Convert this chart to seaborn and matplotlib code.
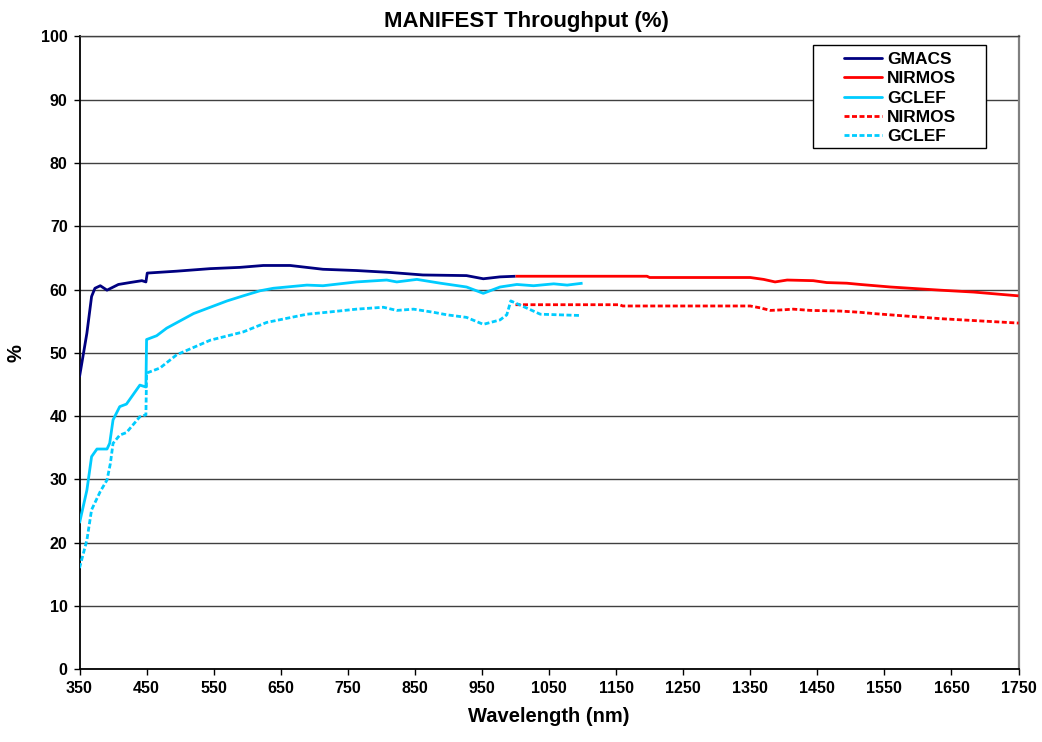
import matplotlib
matplotlib.use("Agg")
import matplotlib.pyplot as plt
from matplotlib.lines import Line2D
from matplotlib.patches import Rectangle
import seaborn as sns
import pandas as pd

# ---- data ----
gmacs_wl = [350, 361, 368, 373, 381, 391, 408, 425, 443, 449, 451, 495, 545, 589, 624, 664,
            713, 763, 813, 862, 927, 952, 977, 1000]
gmacs = [46.2, 53.1, 58.9, 60.2, 60.6, 59.9, 60.8, 61.1, 61.4, 61.2, 62.6, 62.9, 63.3, 63.5, 63.8, 63.8,
         63.2, 63.0, 62.7, 62.3, 62.2, 61.7, 62.0, 62.1]

nirmos_wl = [1000, 1196, 1200, 1350, 1370, 1387, 1405, 1444, 1464, 1494, 1514, 1559, 1633, 1683, 1750]
nirmos = [62.1, 62.1, 61.9, 61.9, 61.6, 61.2, 61.5, 61.4, 61.1, 61.0, 60.8, 60.4, 59.9, 59.6, 59.0]

gclef_wl = [350, 361, 368, 376, 391, 395, 400, 410, 420, 440, 449, 450, 465, 480, 520, 570, 594, 619,
            639, 689, 713, 763, 808, 823, 853, 888, 927, 952, 977, 1002, 1027, 1057, 1077, 1100]
gclef = [23.1, 28.3, 33.6, 34.8, 34.8, 35.7, 39.4, 41.5, 41.9, 44.9, 44.6, 52.1, 52.7, 53.9, 56.2, 58.2, 59.0, 59.8,
         60.2, 60.7, 60.6, 61.2, 61.5, 61.2, 61.6, 61.0, 60.4, 59.4, 60.4, 60.8, 60.6, 60.9, 60.7, 61.0]

nirmos2_wl = [1000, 1155, 1160, 1350, 1365, 1380, 1400, 1414, 1440, 1484, 1514, 1534, 1633, 1683, 1750]
nirmos2 = [57.6, 57.6, 57.4, 57.4, 57.1, 56.7, 56.8, 56.9, 56.7, 56.6, 56.4, 56.2, 55.4, 55.1, 54.7]

gclef2_wl = [350, 361, 368, 381, 391, 396, 400, 410, 420, 440, 449, 450, 470, 495, 545, 594, 629, 689,
             718, 763, 803, 823, 848, 878, 898, 927, 952, 977, 987, 993, 1012, 1037, 1096]
gclef2 = [16.0, 20.4, 25.2, 28.1, 29.9, 32.5, 35.7, 37.0, 37.4, 39.9, 40.2, 46.8, 47.6, 49.7, 52.0, 53.3, 54.8, 56.1,
          56.4, 56.9, 57.2, 56.7, 56.9, 56.4, 56.0, 55.6, 54.5, 55.2, 56.0, 58.2, 57.3, 56.1, 55.9]

labels = ["GMACS", "NIRMOS", "GCLEF", "NIRMOS", "GCLEF"]
title = "MANIFEST Throughput (%)"
xlabel = "Wavelength (nm)"
ylabel = "%"
xticks = list(range(350, 1751, 100))
yticks = list(range(0, 101, 10))

# ---- style ----
sns.set_style("white")
plt.rcParams["font.family"] = ["Liberation Sans", "DejaVu Sans"]
plt.rcParams["font.weight"] = "bold"
plt.rcParams["text.color"] = "black"
plt.rcParams["axes.labelcolor"] = "black"
plt.rcParams["xtick.color"] = "black"
plt.rcParams["ytick.color"] = "black"

NAVY = "#000080"
RED = "#FF0000"
CYAN = "#00CCFF"
LW = 2.0
DASH = (1.8, 0.9)

fig = plt.figure(figsize=(10.42, 7.42), dpi=100)
ax = fig.add_axes([0.0763, 0.098, 0.9012, 0.853])

series = [
    (gmacs_wl, gmacs, NAVY, False),
    (nirmos_wl, nirmos, RED, False),
    (gclef_wl, gclef, CYAN, False),
    (nirmos2_wl, nirmos2, RED, True),
    (gclef2_wl, gclef2, CYAN, True),
]
for wl, val, col, dashed in series:
    df = pd.DataFrame({"wl": wl, "val": val})
    sns.lineplot(data=df, x="wl", y="val", ax=ax, color=col, linewidth=LW,
                 estimator=None, sort=False, zorder=3)
    line = ax.lines[-1]
    if dashed:
        line.set_linestyle((0, DASH))
    line.set_solid_capstyle("butt")

ax.set_xlim(350, 1750)
ax.set_ylim(0, 100)
ax.set_xticks(xticks)
ax.set_yticks(yticks)
ax.grid(axis="y", color="#404040", linewidth=1.0, zorder=0)
ax.grid(axis="x", visible=False)
ax.set_axisbelow(True)

for side in ["left", "bottom"]:
    ax.spines[side].set_color("#000000")
    ax.spines[side].set_linewidth(1.3)
ax.spines["right"].set_color("#808080")
ax.spines["right"].set_linewidth(1.6)
ax.spines["top"].set_color("#404040")
ax.spines["top"].set_linewidth(1.0)

ax.tick_params(axis="both", direction="out", length=4.5, width=1.0, color="#000000",
               labelcolor="#000000", labelsize=11.5, pad=4, left=True, bottom=True)
for lab in ax.get_xticklabels() + ax.get_yticklabels():
    lab.set_fontweight("bold")

ax.set_xlabel(xlabel, fontsize=14.5, fontweight="bold", labelpad=8, color="black")
ax.set_ylabel(ylabel, fontsize=14.5, fontweight="bold", color="black")
ax.yaxis.set_label_coords(-0.058, 0.5)
ax.set_title(title, fontsize=16, fontweight="bold", pad=7, color="black", x=0.4758)

# legend box
box = Rectangle((0.7808, 0.823), 0.1846, 0.164, transform=ax.transAxes,
                facecolor="white", edgecolor="#000000", linewidth=1.0, zorder=5)
ax.add_patch(box)
handles = [
    Line2D([], [], color=NAVY, lw=LW),
    Line2D([], [], color=RED, lw=LW),
    Line2D([], [], color=CYAN, lw=LW),
    Line2D([], [], color=RED, lw=LW, linestyle=(0, DASH)),
    Line2D([], [], color=CYAN, lw=LW, linestyle=(0, DASH)),
]
leg = ax.legend(handles, labels, loc="upper left", bbox_to_anchor=(0.8046, 0.989),
                frameon=False, borderpad=0, handlelength=2.2, handletextpad=0.3,
                labelspacing=0.24, prop={"size": 12.5, "weight": "bold"})
leg.set_zorder(6)
for t in leg.get_texts():
    t.set_color("black")

fig.savefig("out.png", dpi=100)
